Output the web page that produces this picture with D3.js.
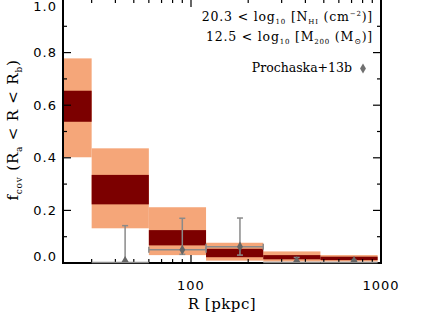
<!DOCTYPE html>
<html>
<head>
<meta charset="utf-8">
<script src="https://cdn.jsdelivr.net/npm/d3@7"></script>
<style>
  body { margin: 0; background: #fff; }
  svg { display: block; }
  .tick-label { font-family: "DejaVu Sans", sans-serif; font-size: 13px; letter-spacing: 1px; }
  .serif { font-family: "DejaVu Serif", serif; }
</style>
</head>
<body>
<svg id="chart"></svg>
<script>
// radial bins (pkpc) and model covering fraction bands
const binEdges = [15, 30, 60, 120, 240, 480, 960];
const outerLo = [0.402, 0.132, 0.030, 0.009, 0.006, 0.006];
const outerHi = [0.778, 0.436, 0.212, 0.077, 0.044, 0.030];
const innerLo = [0.537, 0.223, 0.067, 0.022, 0.014, 0.011];
const innerHi = [0.655, 0.335, 0.125, 0.054, 0.030, 0.024];

// Prochaska+13b observations
const obsR = [45, 90, 181, 360, 721];
const obsRlo = [30, 60, 120, 240, 480];
const obsRhi = [60, 120, 240, 480, 960];
const obsF = [0, 0.050, 0.062, 0, 0];
const obsFlo = [0, 0.033, 0.030, 0, 0];
const obsFhi = [0.142, 0.170, 0.171, 0.021, 0.010];
const obsLimit = [true, false, false, true, true];

const yTicks = [0, 0.2, 0.4, 0.6, 0.8, 1.0];
const xTicks = [100, 1000];

const width = 424, height = 317;
const margin = {top: 0, right: 43, bottom: 54, left: 63};

const svg = d3.select('#chart').attr('width', width).attr('height', height);

const x = d3.scaleLog().domain([21.2, 1000]).range([margin.left, width - margin.right]);
const y = d3.scaleLinear().domain([0, 1]).range([height - margin.bottom, margin.top]);

const lightCol = '#f5a679';
const darkCol = '#7c0000';

svg.append('clipPath').attr('id', 'plotclip')
    .append('rect')
    .attr('x', margin.left).attr('y', margin.top)
    .attr('width', x.range()[1] - margin.left)
    .attr('height', y(0) - margin.top);

const bins = d3.range(binEdges.length - 1).map(i => ({
    r0: binEdges[i], r1: binEdges[i + 1],
    oLo: outerLo[i], oHi: outerHi[i], iLo: innerLo[i], iHi: innerHi[i]
}));

const boxes = svg.append('g').attr('clip-path', 'url(#plotclip)');

boxes.selectAll('rect.outer')
    .data(bins)
    .join('rect')
    .attr('class', 'outer')
    .attr('x', d => x(d.r0))
    .attr('width', d => x(d.r1) - x(d.r0))
    .attr('y', d => y(d.oHi))
    .attr('height', d => y(d.oLo) - y(d.oHi))
    .attr('fill', lightCol);

boxes.selectAll('rect.inner')
    .data(bins)
    .join('rect')
    .attr('class', 'inner')
    .attr('x', d => x(d.r0))
    .attr('width', d => x(d.r1) - x(d.r0))
    .attr('y', d => y(d.iHi))
    .attr('height', d => y(d.iLo) - y(d.iHi))
    .attr('fill', darkCol);

// axes
const minorX = [30, 40, 50, 60, 70, 80, 90, 200, 300, 400, 500, 600, 700, 800, 900];
const minorY = d3.range(0.1, 1.0, 0.2);

const axes = svg.append('g').attr('stroke', '#000');
const x0 = margin.left, x1 = x.range()[1], yb = y(0), yt = margin.top - 1;

axes.append('rect')
    .attr('x', x0).attr('y', yt)
    .attr('width', x1 - x0).attr('height', yb - yt)
    .attr('fill', 'none').attr('stroke-width', 2);

function xTickLines(vals, len) {
    axes.append('g').selectAll('line')
        .data(vals).join('line')
        .attr('x1', d => x(d)).attr('x2', d => x(d))
        .attr('y1', yb).attr('y2', yb - len).attr('stroke-width', 1.2);
    axes.append('g').selectAll('line')
        .data(vals).join('line')
        .attr('x1', d => x(d)).attr('x2', d => x(d))
        .attr('y1', yt).attr('y2', yt + len).attr('stroke-width', 1.2);
}
function yTickLines(vals, len) {
    axes.append('g').selectAll('line')
        .data(vals).join('line')
        .attr('x1', x0).attr('x2', x0 + len)
        .attr('y1', d => y(d)).attr('y2', d => y(d)).attr('stroke-width', 1.2);
    axes.append('g').selectAll('line')
        .data(vals).join('line')
        .attr('x1', x1).attr('x2', x1 - len)
        .attr('y1', d => y(d)).attr('y2', d => y(d)).attr('stroke-width', 1.2);
}
xTickLines(xTicks, 8);
xTickLines(minorX, 4);
yTickLines(yTicks.slice(1, -1), 8);
yTickLines(minorY, 4);

svg.append('g').selectAll('text')
    .data(yTicks).join('text')
    .attr('class', 'tick-label')
    .attr('x', x0 - 6)
    .attr('y', d => y(d) + (d === 0 ? -7 : d === 1 ? 6.5 : 0))
    .attr('dy', '0.36em')
    .attr('text-anchor', 'end')
    .text(d => d.toFixed(1));

svg.append('g').selectAll('text')
    .data(xTicks).join('text')
    .attr('class', 'tick-label')
    .attr('x', d => x(d))
    .attr('y', yb + 27)
    .attr('text-anchor', 'middle')
    .text(d => d);

svg.append('text')
    .attr('class', 'serif')
    .attr('x', 222).attr('y', yb + 46)
    .attr('text-anchor', 'middle')
    .attr('font-size', 15)
    .attr('letter-spacing', 0.5)
    .text('R [pkpc]');

const ylab = svg.append('text')
    .attr('class', 'serif')
    .attr('transform', `translate(18, 130) rotate(-90)`)
    .attr('text-anchor', 'middle')
    .attr('font-size', 15)
    .attr('letter-spacing', 0.8);
ylab.append('tspan').text('f');
ylab.append('tspan').attr('font-size', 9).attr('dy', 4).text('cov');
ylab.append('tspan').attr('dy', -4).text(' (R');
ylab.append('tspan').attr('font-size', 9).attr('dy', 4).text('a');
ylab.append('tspan').attr('dy', -4).text(' < R < R');
ylab.append('tspan').attr('font-size', 9).attr('dy', 4).text('b');
ylab.append('tspan').attr('dy', -4).text(')');

// annotations
const ann = svg.append('g').attr('class', 'serif').attr('font-size', 12.5)
    .attr('text-anchor', 'end');
const t1 = ann.append('text').attr('x', 373).attr('y', 21).attr('letter-spacing', 0.8);
t1.append('tspan').text('20.3 < log');
t1.append('tspan').attr('font-size', 7).attr('dy', 3).text('10');
t1.append('tspan').attr('dy', -3).text(' [N');
t1.append('tspan').attr('font-size', 7).attr('dy', 3).text('HI');
t1.append('tspan').attr('dy', -3).text(' (cm');
t1.append('tspan').attr('font-size', 7).attr('dy', -5).text('−2');
t1.append('tspan').attr('dy', 5).text(')]');

const t2 = ann.append('text').attr('x', 373).attr('y', 41).attr('letter-spacing', 0.8);
t2.append('tspan').text('12.5 < log');
t2.append('tspan').attr('font-size', 7).attr('dy', 3).text('10');
t2.append('tspan').attr('dy', -3).text(' [M');
t2.append('tspan').attr('font-size', 7).attr('dy', 3).text('200');
t2.append('tspan').attr('dy', -3).text(' (M');
t2.append('tspan').attr('font-size', 8).attr('dy', 3).text('⊙');
t2.append('tspan').attr('dy', -3).text(')]');

ann.append('text').attr('x', 352).attr('y', 72).text('Prochaska+13b');

const diamond = d3.symbol().type(d3.symbolDiamond).size(30);
const triangle = d3.symbol().type(d3.symbolTriangle).size(22);

svg.append('path')
    .attr('d', diamond)
    .attr('transform', 'translate(363,68.5)')
    .attr('fill', '#707070');

// observations
const obs = obsR.map((r, i) => ({
    r: r, rlo: obsRlo[i], rhi: obsRhi[i],
    f: obsF[i], flo: obsFlo[i], fhi: obsFhi[i], lim: obsLimit[i]
}));

const og = svg.append('g').attr('stroke', '#8a8a8a').attr('stroke-width', 1.5);
og.selectAll('line.h')
    .data(obs).join('line')
    .attr('x1', d => x(d.rlo)).attr('x2', d => x(d.rhi))
    .attr('y1', d => y(d.f) - (d.lim ? 0.5 : 0)).attr('y2', d => y(d.f) - (d.lim ? 0.5 : 0));
og.selectAll('line.hc0')
    .data(obs.filter(d => !d.lim)).join('line')
    .attr('x1', d => x(d.rlo)).attr('x2', d => x(d.rlo))
    .attr('y1', d => y(d.f) - 3).attr('y2', d => y(d.f) + 3);
og.selectAll('line.hc1')
    .data(obs.filter(d => !d.lim)).join('line')
    .attr('x1', d => x(d.rhi)).attr('x2', d => x(d.rhi))
    .attr('y1', d => y(d.f) - 3).attr('y2', d => y(d.f) + 3);
og.selectAll('line.v')
    .data(obs).join('line')
    .attr('x1', d => x(d.r)).attr('x2', d => x(d.r))
    .attr('y1', d => y(d.flo)).attr('y2', d => y(d.fhi));
og.selectAll('line.vc0')
    .data(obs).join('line')
    .attr('x1', d => x(d.r) - 3).attr('x2', d => x(d.r) + 3)
    .attr('y1', d => y(d.fhi)).attr('y2', d => y(d.fhi));
og.selectAll('line.vc1')
    .data(obs.filter(d => !d.lim)).join('line')
    .attr('x1', d => x(d.r) - 3).attr('x2', d => x(d.r) + 3)
    .attr('y1', d => y(d.flo)).attr('y2', d => y(d.flo));

svg.append('g').selectAll('path')
    .data(obs).join('path')
    .attr('d', d => d.lim ? triangle() : diamond())
    .attr('transform', d => `translate(${x(d.r)},${d.lim ? y(d.f) - 3 : y(d.f)})`)
    .attr('fill', '#666');
</script>
</body>
</html>
